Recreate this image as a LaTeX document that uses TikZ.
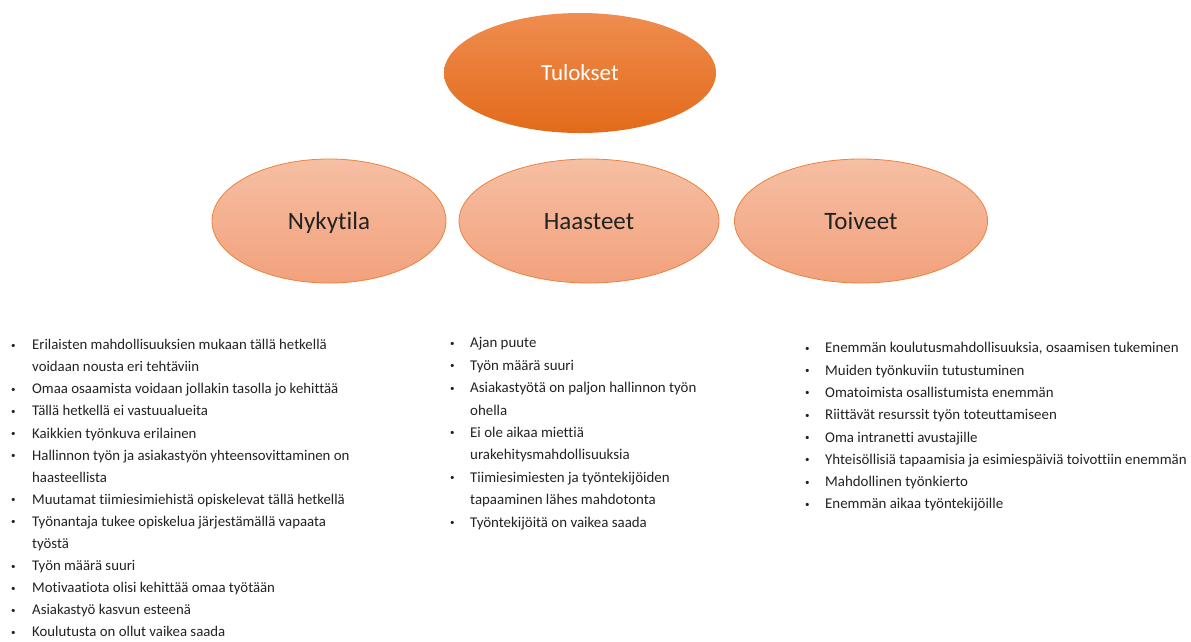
\documentclass[tikz,border=0pt]{standalone}
\usepackage{fontspec}
\setmainfont[Ligatures={NoCommon}]{Carlito}
\usetikzlibrary{shapes.geometric}
\definecolor{topO}{HTML}{EF8D4F}
\definecolor{botO}{HTML}{E36A1A}
\definecolor{topL}{HTML}{F6BFA3}
\definecolor{botL}{HTML}{F2A17C}
\definecolor{edgeL}{HTML}{E9833F}
\definecolor{txt}{HTML}{222222}
\tikzset{
  mainell/.style={ellipse, inner sep=0pt, top color=topO, bottom color=botO, draw=none,
    minimum width=272pt, minimum height=120pt, text=white, text depth=0pt, font=\fontsize{23}{25}\selectfont},
  subell/.style={ellipse, inner sep=0pt, top color=topL, bottom color=botL, draw=edgeL, line width=0.8pt,
    minimum height=124pt, text=txt, text depth=0pt, font=\fontsize{25}{27}\selectfont},
  listbox/.style={anchor=north west, inner sep=0pt, text=txt, align=left}
}
\newcommand{\bl}{\hspace*{2pt}\raisebox{1.5pt}{\fontsize{9}{9}\selectfont\textbullet}}
\begin{document}
\begin{tikzpicture}[x=1pt,y=-1pt]
\useasboundingbox (0,0) rectangle (1191,641);
\node[mainell] (tul) at (580,73) {Tulokset};
\node[subell, minimum width=234pt] (nyk) at (329,221) {Nykytila};
\node[subell, minimum width=260pt] (haa) at (589,221) {Haasteet};
\node[subell, minimum width=253pt] (toi) at (861,221) {Toiveet};

\node[listbox] (L) at (9,334) {\fontsize{14.8}{22.1}\selectfont
\begin{tabular}{@{}p{23pt}@{}l@{}}
\bl & Erilaisten mahdollisuuksien mukaan tällä hetkellä\\
 & voidaan nousta eri tehtäviin\\
\bl & Omaa osaamista voidaan jollakin tasolla jo kehittää\\
\bl & Tällä hetkellä ei vastuualueita\\
\bl & Kaikkien työnkuva erilainen\\
\bl & Hallinnon työn ja asiakastyön yhteensovittaminen on\\
 & haasteellista\\
\bl & Muutamat tiimiesimiehistä opiskelevat tällä hetkellä\\
\bl & Työnantaja tukee opiskelua järjestämällä vapaata\\
 & työstä\\
\bl & Työn määrä suuri\\
\bl & Motivaatiota olisi kehittää omaa työtään\\
\bl & Asiakastyö kasvun esteenä\\
\bl & Koulutusta on ollut vaikea saada
\end{tabular}};

\node[listbox] (M) at (448,332) {\fontsize{14.9}{22.4}\selectfont
\begin{tabular}{@{}p{22pt}@{}l@{}}
\bl & Ajan puute\\
\bl & Työn määrä suuri\\
\bl & Asiakastyötä on paljon hallinnon työn\\
 & ohella\\
\bl & Ei ole aikaa miettiä\\
 & urakehitysmahdollisuuksia\\
\bl & Tiimiesimiesten ja työntekijöiden\\
 & tapaaminen lähes mahdotonta\\
\bl & Työntekijöitä on vaikea saada
\end{tabular}};

\node[listbox] (R) at (803,337) {\fontsize{14.9}{22.3}\selectfont
\begin{tabular}{@{}p{22pt}@{}l@{}}
\bl & Enemmän koulutusmahdollisuuksia, osaamisen tukeminen\\
\bl & Muiden työnkuviin tutustuminen\\
\bl & Omatoimista osallistumista enemmän\\
\bl & Riittävät resurssit työn toteuttamiseen\\
\bl & Oma intranetti avustajille\\
\bl & Yhteisöllisiä tapaamisia ja esimiespäiviä toivottiin enemmän\\
\bl & Mahdollinen työnkierto\\
\bl & Enemmän aikaa työntekijöille
\end{tabular}};
\end{tikzpicture}
\end{document}
